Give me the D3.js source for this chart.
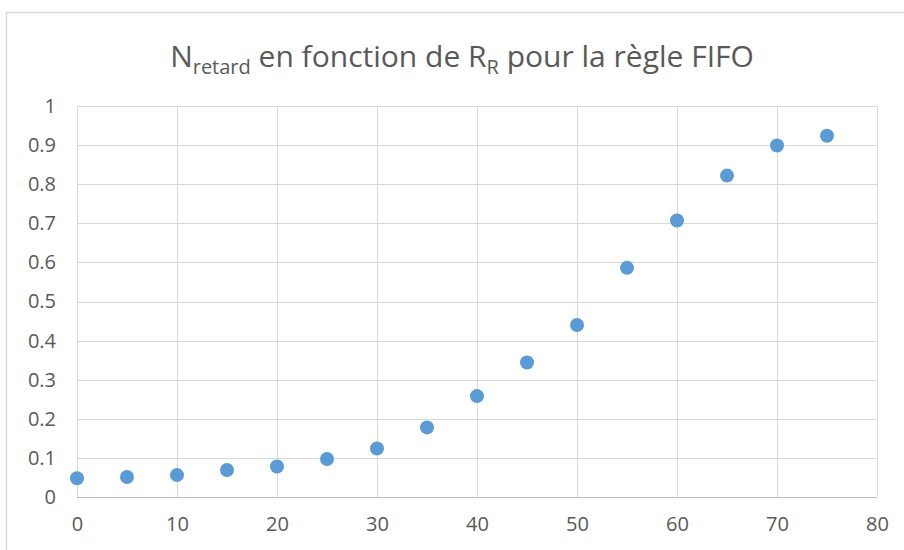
<!DOCTYPE html>
<html><head><meta charset="utf-8">
<script src="https://cdn.jsdelivr.net/npm/d3@7"></script>
<style>body{margin:0;background:#fff}svg{display:block}</style>
</head><body>
<svg id="c" width="904" height="550"></svg>
<script>
const xValues = [0,5,10,15,20,25,30,35,40,45,50,55,60,65,70,75];
const yValues = [0.048,0.051,0.056,0.069,0.078,0.097,0.124,0.178,0.258,0.344,0.44,0.586,0.707,0.822,0.899,0.924];
const xTicks = [0,10,20,30,40,50,60,70,80];
const yTicks = [0,0.1,0.2,0.3,0.4,0.5,0.6,0.7,0.8,0.9,1];

const svg = d3.select("#c");
const font = "'Open Sans', sans-serif";
svg.append("rect").attr("x",6.5).attr("y",12.5).attr("width",910).attr("height",560)
  .attr("fill","#fff").attr("stroke","#d9d9d9").attr("stroke-width",1.5);

const x = d3.scaleLinear().domain([0,80]).range([77,877]);
const y = d3.scaleLinear().domain([0,1]).range([497,106]);

const g = svg.append("g");
g.selectAll(".hg").data(yTicks).join("line")
  .attr("x1",x(0)).attr("x2",x(80)).attr("y1",d=>Math.round(y(d))+0.5).attr("y2",d=>Math.round(y(d))+0.5)
  .attr("stroke","#d9d9d9").attr("stroke-width",1);
g.selectAll(".vg").data(xTicks).join("line")
  .attr("y1",y(0)).attr("y2",y(1)).attr("x1",d=>Math.round(x(d))+0.5).attr("x2",d=>Math.round(x(d))+0.5)
  .attr("stroke","#d9d9d9").attr("stroke-width",1);

const xAxis = svg.append("g").attr("transform",`translate(0,${y(0)})`)
  .call(d3.axisBottom(x).tickValues(xTicks).tickSize(0).tickPadding(20).tickFormat(d3.format("d")));
const yAxis = svg.append("g").attr("transform",`translate(${x(0)},0)`)
  .call(d3.axisLeft(y).tickValues(yTicks).tickSize(0).tickPadding(21).tickFormat(d=>d===0?"0":d===1?"1":d3.format(".1f")(d)));
[xAxis,yAxis].forEach(a=>{
  a.select(".domain").remove();
  a.selectAll("text").attr("fill","#595959").style("font-size","20px").style("font-family",font);
});
svg.append("line").attr("x1",x(0)).attr("x2",x(80)).attr("y1",Math.round(y(0))+0.5).attr("y2",Math.round(y(0))+0.5)
  .attr("stroke","#bfbfbf");

svg.selectAll("circle.pt").data(xValues.map((v,i)=>[v,yValues[i]])).join("circle")
  .attr("class","pt").attr("cx",d=>x(d[0])).attr("cy",d=>y(d[1])).attr("r",7)
  .attr("fill","#5b9bd5");

const t = svg.append("text").attr("x",462).attr("y",67).attr("text-anchor","middle")
  .attr("fill","#595959").style("font-family",font).style("font-size","30px");
t.append("tspan").text("N");
t.append("tspan").attr("dy",7).style("font-size","20px").text("retard");
t.append("tspan").attr("dy",-7).text(" en fonction de R");
t.append("tspan").attr("dy",7).style("font-size","20px").text("R");
t.append("tspan").attr("dy",-7).text(" pour la règle FIFO");
</script>
</body></html>
